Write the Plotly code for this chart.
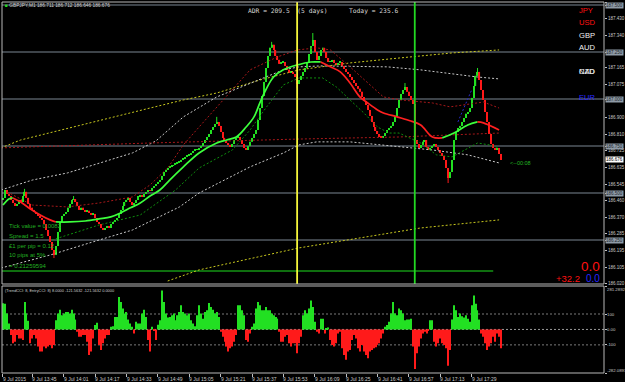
import plotly.graph_objects as go

# ---------------- data ----------------
closes = [
    186.474, 186.516, 186.495, 186.484, 186.463, 186.447, 186.431, 186.442, 186.463, 186.452,
    186.484, 186.506, 186.474, 186.442, 186.421, 186.410, 186.399, 186.389, 186.378, 186.367,
    186.357, 186.335, 186.303, 186.271, 186.240, 186.197, 186.170, 186.218, 186.293, 186.346,
    186.378, 186.389, 186.399, 186.421, 186.442, 186.463, 186.468, 186.452, 186.431, 186.410,
    186.421, 186.410, 186.399, 186.405, 186.394, 186.383, 186.389, 186.367, 186.346, 186.335,
    186.314, 186.303, 186.314, 186.325, 186.314, 186.335, 186.346, 186.357, 186.367, 186.389,
    186.410, 186.431, 186.452, 186.463, 186.474, 186.452, 186.436, 186.447, 186.463, 186.484,
    186.490, 186.479, 186.495, 186.506, 186.516, 186.511, 186.527, 186.537, 186.548, 186.559,
    186.569, 186.591, 186.612, 186.623, 186.633, 186.639, 186.644, 186.649, 186.655, 186.660,
    186.665, 186.676, 186.681, 186.692, 186.697, 186.703, 186.713, 186.724, 186.729, 186.734,
    186.740, 186.750, 186.766, 186.782, 186.798, 186.814, 186.835, 186.851, 186.867, 186.878,
    186.857, 186.825, 186.793, 186.777, 186.766, 186.756, 186.745, 186.761, 186.782, 186.793,
    186.798, 186.782, 186.761, 186.740, 186.729, 186.750, 186.772, 186.793, 186.814, 186.835,
    186.889, 186.952, 187.016, 187.091, 187.165, 187.229, 187.272, 187.288, 187.261, 187.229,
    187.208, 187.187, 187.192, 187.197, 187.176, 187.155, 187.139, 187.144, 187.133, 187.117,
    187.080, 187.101, 187.123, 187.144, 187.165, 187.197, 187.240, 187.282, 187.314, 187.250,
    187.208, 187.229, 187.261, 187.272, 187.250, 187.218, 187.197, 187.202, 187.208, 187.192,
    187.181, 187.192, 187.197, 187.176, 187.160, 187.144, 187.133, 187.117, 187.101, 187.085,
    187.069, 187.054, 187.038, 187.011, 186.990, 186.968, 186.942, 186.910, 186.878, 186.851,
    186.830, 186.814, 186.798, 186.793, 186.803, 186.819, 186.835, 186.846, 186.857, 186.878,
    186.910, 186.952, 186.995, 187.027, 187.048, 187.064, 187.038, 187.016, 186.995, 186.974,
    186.782, 186.761, 186.740, 186.756, 186.772, 186.782, 186.745, 186.729, 186.740, 186.750,
    186.761, 186.745, 186.729, 186.713, 186.697, 186.676, 186.633, 186.580, 186.612, 186.676,
    186.782, 186.825, 186.846, 186.857, 186.878, 186.899, 186.921, 186.931, 186.952, 187.006,
    187.069, 187.123, 187.144, 187.101, 187.048, 186.995, 186.931, 186.878, 186.814, 186.761,
    186.740, 186.729, 186.740, 186.708, 186.676,
]
first_open = 186.463
high_spikes = {11: 186.522, 36: 186.484, 109: 186.905, 137: 187.304, 158: 187.351,
               205: 187.085, 242: 187.165}
low_spikes = {26: 186.154, 150: 187.059, 227: 186.553}

cci = [
    170, 167, 103, 38, -36, -90, -79, -36, -58, -58,
    -68, 177, 103, 56, -90, -58, -36, -58, -111, -143,
    -143, -111, -122, -111, -100, -122, -100, 60, 103, 128,
    92, 103, 113, 113, 103, 128, 103, 64, -15, -47,
    -47, -36, -36, -79, -165, -143, -58, 28, 43, -100,
    -133, -90, -58, -36, -36, 17, 21, 81, 81, 210,
    177, 135, 103, 113, 64, 38, 17, -26, 49, 38,
    38, 103, 128, 81, -68, -143, 17, -10, -68, 30,
    60, 252, 177, 103, 77, 81, 92, 103, 60, 92,
    113, 156, 113, 103, 92, 103, 60, 38, 21, 92,
    156, 103, 70, 113, 124, 171, 145, 128, 103, 113,
    81, -15, -47, -79, -111, -143, -122, -111, -79, -36,
    156, 156, 124, 92, -68, -79, -26, 17, 38, 135,
    177, 156, 124, 124, 145, 124, 124, 103, 92, 81,
    70, -15, -79, -79, -47, -36, -90, -111, -90, -90,
    -154, -90, -47, 92, 124, 103, 135, 188, 145, 49,
    -15, -26, 70, 70, -26, 5, 13, -68, -100, -111,
    -90, -26, -15, -122, -165, -197, -143, -133, -68, -36,
    -58, -122, -143, -100, -143, -165, -186, -143, -133, -122,
    -115, -100, -90, -58, -26, 17, 28, 49, 103, 177,
    103, 92, 135, 124, 103, 60, 64, 64, 70, -111,
    -256, -154, -111, -58, -26, -15, -26, -9, 60, 60,
    -79, -111, -90, -58, -90, -100, -122, -235, -133, 64,
    156, 124, 81, 103, 86, 77, 92, 70, 49, 156,
    220, 167, 124, 64, -26, -47, -90, -133, -111, -90,
    -47, -79, -26, -47, -122,
]

# moving average (bar index, price)
ma_idx = [0, 3, 5, 9, 14, 19, 24, 27, 34, 42, 49, 55, 60, 65, 70, 75, 80, 85, 92, 100, 109, 114,
          119, 124, 128, 131, 134, 138, 143, 150, 157, 162, 167, 172, 177, 182, 186, 191, 194,
          201, 208, 213, 219, 224, 230, 237, 242, 245, 253]
ma_val = [186.436, 186.468, 186.474, 186.452, 186.415, 186.383, 186.357, 186.346, 186.346,
          186.351, 186.362, 186.373, 186.394, 186.421, 186.447, 186.484, 186.516, 186.569,
          186.639, 186.713, 186.766, 186.782, 186.798, 186.851, 186.905, 186.979, 187.048,
          187.117, 187.155, 187.181, 187.197, 187.197, 187.171, 187.144, 187.085, 187.011,
          186.979, 186.942, 186.926, 186.905, 186.883, 186.862, 186.798, 186.793, 186.819,
          186.862, 186.878, 186.873, 186.835]

upper_red_idx = [2, 15, 33, 49, 66, 75, 84, 92, 100, 109, 126, 140, 150, 160, 167, 177, 186, 194,
                 203, 219, 228, 245, 253]
upper_red_val = [186.506, 186.436, 186.426, 186.447, 186.479, 186.543, 186.633, 186.756, 186.851,
                 186.958, 187.155, 187.224, 187.261, 187.272, 187.261, 187.171, 187.085, 187.011,
                 186.995, 186.979, 186.958, 186.984, 186.952]

lower_green_idx = [25, 49, 70, 88, 100, 117, 126, 134, 143, 151, 163, 170, 177, 184, 191, 197,
                   202, 213, 221, 229, 242, 248, 253]
lower_green_val = [186.250, 186.330, 186.383, 186.516, 186.633, 186.729, 186.835, 186.952,
                   187.075, 187.112, 187.112, 187.064, 186.995, 186.926, 186.851, 186.819,
                   186.819, 186.766, 186.703, 186.692, 186.766, 186.756, 186.740]

yellow_up_idx = [-1, 9, 75, 92, 109, 131, 151, 177, 202, 229, 253]
yellow_up_val = [186.740, 186.782, 186.952, 186.995, 187.032, 187.101, 187.155, 187.192,
                 187.218, 187.245, 187.261]

yellow_low_idx = [84, 100, 151, 213, 253]
yellow_low_val = [186.032, 186.091, 186.208, 186.314, 186.357]

white_up_idx = [-1, 15, 33, 49, 66, 78, 92, 109, 126, 143, 151, 162, 196, 213, 242, 253]
white_up_val = [186.516, 186.569, 186.607, 186.660, 186.713, 186.777, 186.905, 187.011, 187.085,
                187.155, 187.171, 187.176, 187.171, 187.155, 187.117, 187.107]

white_low_idx = [-1, 24, 49, 66, 90, 100, 126, 143, 151, 160, 177, 194, 202, 219, 237, 253]
white_low_val = [186.101, 186.170, 186.250, 186.303, 186.426, 186.500, 186.639, 186.713,
                 186.756, 186.772, 186.772, 186.756, 186.745, 186.729, 186.703, 186.660]

red_flat_idx = [-1, 75, 151, 202, 253]
red_flat_val = [186.740, 186.766, 186.787, 186.798, 186.819]

blue_idx = [232, 239]
blue_val = [186.878, 187.048]

round_levels = [187.5, 187.25, 187.0, 186.75, 186.5, 186.25]
green_level = 186.085
green_level_end = 250
session_lines = [(150, "#f5f53a"), (210, "#22d822")]

axis_prices = ["187.515", "187.430", "187.340", "187.165", "187.075", "186.900", "186.810",
               "186.725", "186.635", "186.545", "186.460", "186.370", "186.285", "186.195",
               "186.105", "186.020"]

time_ticks = [0, 15, 31, 47, 63, 79, 95, 111, 127, 143, 159, 175, 191, 207, 223, 239]
time_labels = ["9 Jul 2015", "9 Jul 13:45", "9 Jul 14:01", "9 Jul 14:17", "9 Jul 14:33",
               "9 Jul 14:49", "9 Jul 15:05", "9 Jul 15:21", "9 Jul 15:37", "9 Jul 15:53",
               "9 Jul 16:09", "9 Jul 16:25", "9 Jul 16:41", "9 Jul 16:57", "9 Jul 17:13",
               "9 Jul 17:29"]

cci_levels = [100, 0, -100]
cci_range = [-282.0893, 281.2892]

# ---------------- build ----------------
W, H = 625, 382
ML, MR, MT, MB = 2, 21, 2, 9
PW, PH = W - ML - MR, H - MT - MB
MAIN_BOTTOM_PX, IND_TOP_PX = 284, 286
main_dom = [(H - MB - MAIN_BOTTOM_PX) / PH, 1]
ind_dom = [0, (H - MB - IND_TOP_PX) / PH]


def pxx(x):
    return (x - ML) / PW


def pxy(y):
    return (H - MB - y) / PH


n = len(closes)
idx = list(range(n))
opens = [first_open] + closes[:-1]
highs = [max(o, c) for o, c in zip(opens, closes)]
lows = [min(o, c) for o, c in zip(opens, closes)]
for k, v in high_spikes.items():
    highs[k] = v
for k, v in low_spikes.items():
    lows[k] = v

UP, DN = "#22e022", "#ff1a1a"
fig = go.Figure()


def dotted(xs, ys, color, width=1):
    fig.add_trace(go.Scatter(x=xs, y=ys, mode="lines", line=dict(color=color, width=width, dash="2px,2px"),
                             hoverinfo="skip", xaxis="x", yaxis="y"))


dotted(yellow_up_idx, yellow_up_val, "#c8c81e")
dotted(yellow_low_idx, yellow_low_val, "#c8c81e")
dotted(white_up_idx, white_up_val, "#c8c8c8")
dotted(white_low_idx, white_low_val, "#c8c8c8")
dotted(red_flat_idx, red_flat_val, "#a8181a")
dotted(upper_red_idx, upper_red_val, "#a8181a")
dotted(lower_green_idx, lower_green_val, "#0e8e0e")
dotted(blue_idx, blue_val, "#2a2ad0")

# wicks
for color, cond in ((UP, True), (DN, False)):
    wx, wy = [], []
    for i in idx:
        if (closes[i] >= opens[i]) == cond:
            wx += [i, i, None]
            wy += [lows[i], highs[i], None]
    fig.add_trace(go.Scatter(x=wx, y=wy, mode="lines", line=dict(color=color, width=1),
                             hoverinfo="skip", xaxis="x", yaxis="y"))
# bodies
for color, cond in ((UP, True), (DN, False)):
    bx, bb, bh = [], [], []
    for i in idx:
        if (closes[i] >= opens[i]) == cond:
            bx.append(i)
            bb.append(min(opens[i], closes[i]))
            bh.append(max(abs(closes[i] - opens[i]), 0.0015))
    fig.add_trace(go.Bar(x=bx, y=bh, base=bb, width=0.6, marker=dict(color=color, line=dict(width=0)),
                         hoverinfo="skip", xaxis="x", yaxis="y"))

# MA coloured by direction
seg_start = 0
for k in range(1, len(ma_val)):
    up_k = ma_val[k] >= ma_val[k - 1]
    last = k == len(ma_val) - 1
    nxt_up = None if last else ma_val[k + 1] >= ma_val[k]
    if last or nxt_up != up_k:
        fig.add_trace(go.Scatter(x=ma_idx[seg_start:k + 1], y=ma_val[seg_start:k + 1], mode="lines",
                                 line=dict(color="#3cff3c" if up_k else "#ff2020", width=1.7, shape="spline"),
                                 hoverinfo="skip", xaxis="x", yaxis="y"))
        seg_start = k

# CCI histogram
fig.add_trace(go.Bar(x=idx, y=cci, width=0.55,
                     marker=dict(color=[UP if v >= 0 else DN for v in cci], line=dict(width=0)),
                     hoverinfo="skip", xaxis="x", yaxis="y2"))

shapes = []
for lv in round_levels:
    shapes.append(dict(type="line", xref="paper", x0=0, x1=1, yref="y", y0=lv, y1=lv,
                       line=dict(color="#7a8692", width=1), layer="below"))
shapes.append(dict(type="line", xref="x", x0=-1, x1=green_level_end, yref="y", y0=green_level, y1=green_level,
                   line=dict(color="#149414", width=1.5), layer="below"))
for xi, col in session_lines:
    shapes.append(dict(type="line", xref="x", x0=xi, x1=xi, yref="paper", y0=main_dom[0], y1=1,
                       line=dict(color=col, width=1.8)))
for lv in cci_levels:
    shapes.append(dict(type="line", xref="paper", x0=0, x1=1, yref="y2", y0=lv, y1=lv,
                       line=dict(color="#9a9a9a" if lv == 0 else "#7a7a7a", width=1, dash="2px,2px"),
                       layer="below"))
shapes.append(dict(type="rect", xref="paper", x0=0, x1=1, yref="paper", y0=main_dom[0], y1=1,
                   line=dict(color="#b8b8b8", width=1)))
shapes.append(dict(type="rect", xref="paper", x0=0, x1=1, yref="paper", y0=ind_dom[0], y1=ind_dom[1],
                   line=dict(color="#b8b8b8", width=1)))

ann = []
AX_SIZE = 4.5
AX_FONT = dict(family="Liberation Sans", size=AX_SIZE, color="#c8c8c8")
for t in axis_prices:
    sh = -3 if t == axis_prices[0] else 0
    sz = 3.8 if t == axis_prices[0] else AX_SIZE
    ann.append(dict(x=1, xref="paper", xanchor="left", xshift=2, y=float(t), yref="y", yanchor="middle",
                    yshift=sh, text=t, showarrow=False,
                    font=dict(family="Liberation Sans", size=sz, color="#c8c8c8")))
for lv in round_levels:
    ann.append(dict(x=1, xref="paper", xanchor="left", xshift=1, y=lv, yref="y", yanchor="middle",
                    text=f"{lv:.3f}", showarrow=False, bgcolor="#8e9aa6", borderpad=0,
                    font=dict(family="Liberation Sans", size=AX_SIZE, color="#20262c")))
ann.append(dict(x=1, xref="paper", xanchor="left", xshift=1, y=closes[-1], yref="y", yanchor="middle",
                text=f"{closes[-1]:.3f}", showarrow=False, bgcolor="#ffffff", borderpad=0,
                font=dict(family="Liberation Sans", size=AX_SIZE, color="#000000")))
cci_lab = [(cci_range[1], "281.2892", -3), (100, "100", 0), (0, "0.00", 0), (-100, "-100", 0),
           (cci_range[0], "-282.0893", 3)]
for v, t, sh in cci_lab:
    ann.append(dict(x=1, xref="paper", xanchor="left", xshift=1, y=v, yref="y2", yanchor="middle", yshift=sh,
                    text=t, showarrow=False, font=dict(family="Liberation Sans", size=4.3, color="#c8c8c8")))
for tv, tl in zip(time_ticks, time_labels):
    ann.append(dict(x=tv, xref="x", xanchor="left", xshift=-2, y=0, yref="paper", yanchor="top", yshift=-1,
                    text=tl, showarrow=False, font=dict(family="Liberation Sans", size=5.0, color="#c8c8c8")))


def txt(x, y, s, color, size, family="Liberation Sans", anchor="left"):
    ann.append(dict(x=pxx(x), y=pxy(y), xref="paper", yref="paper", xanchor=anchor, yanchor="middle",
                    text=s, showarrow=False, font=dict(family=family, size=size, color=color)))


txt(3, 5, '<span style="color:#22dd22">■</span> GBPJPY,M1 186.711 186.712 186.646 186.676', "#d0d0d0", 4.8)
txt(246, 11, "ADR = 209.5  (5 days)", "#d8d8d8", 6.3, "DejaVu Sans Mono")
txt(347, 11, "Today = 235.6", "#d8d8d8", 6.3, "DejaVu Sans Mono")
txt(577, 11, "JPY", "#ff1010", 7.6)
txt(577, 23, "USD", "#ff1010", 7.6)
txt(577, 35, "GBP", "#f0f0f0", 7.6)
txt(577, 47, "AUD", "#f0f0f0", 7.6)
txt(577, 72, "NZD", "#f0f0f0", 7.6)
txt(577, 72, "CAD", "#e8e8e8", 7.6)
txt(577, 97, "EUR", "#2626ff", 7.6)
txt(602, 266, "0.0", "#ff1010", 13.5, anchor="right")
txt(582, 278, "+32.2", "#ff1010", 9.5, anchor="right")
txt(602, 278, "0.0", "#2626ff", 10, anchor="right")
txt(508, 163, "<--00:08", "#22b422", 5.5)
for yy, s in ((226, "Tick value = 0.0082"), (236, "Spread = 1.5"), (246, "£1 per pip = 0.12"),
              (255, "10 pips at 5%"), (266, "= 0.21259594")):
    txt(7, yy, s, "#22b022", 6)
txt(3, 290, "(TrendCCI: 8, EntryCCI: 8) 8.0000 -121.5632 -121.5632 0.0000", "#d0d0d0", 3.9)

fig.update_layout(
    width=W, height=H, margin=dict(l=ML, r=MR, t=MT, b=MB),
    paper_bgcolor="#000000", plot_bgcolor="#000000", showlegend=False, barmode="overlay",
    xaxis=dict(range=[-0.5, 306.5], anchor="y2", showgrid=False, zeroline=False, showticklabels=False,
               ticks="outside", tickvals=time_ticks, ticklen=3, tickcolor="#c0c0c0", showline=False),
    yaxis=dict(domain=main_dom, range=[186.016, 187.516], showgrid=False, zeroline=False, side="right",
               showticklabels=False, ticks="outside", ticklen=2, tickcolor="#c0c0c0",
               tickvals=[float(t) for t in axis_prices] + round_levels, anchor="x"),
    yaxis2=dict(domain=ind_dom, range=cci_range, showgrid=False, zeroline=False, side="right",
                showticklabels=False, ticks="outside", ticklen=2, tickcolor="#c0c0c0",
                tickvals=[cci_range[1], 100, 0, -100, cci_range[0]], anchor="x"),
    shapes=shapes, annotations=ann,
)
fig.write_html("out.html")
